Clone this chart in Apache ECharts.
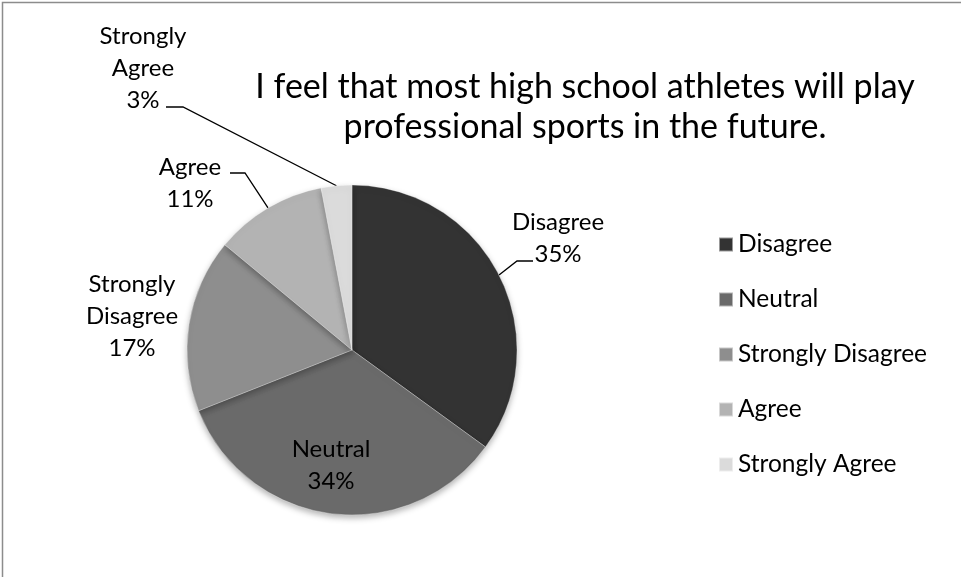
<!DOCTYPE html>
<html>
<head>
<meta charset="utf-8">
<script src="https://cdn.jsdelivr.net/npm/echarts@6/dist/echarts.min.js"></script>
<style>
  html, body { margin: 0; padding: 0; background: #fff; }
  #chartContainer { width: 961px; height: 577px; }
</style>
</head>
<body>
<div id="chartContainer"></div>
<script>
// 数据
var categories = ["Disagree", "Neutral", "Strongly Disagree", "Agree", "Strongly Agree"];
var labelNames = ["Disagree", "Neutral", "Strongly\nDisagree", "Agree", "Strongly\nAgree"];
var values = [35, 34, 17, 11, 3];
var sliceColors = ["#333333", "#6a6a6a", "#8e8e8e", "#b3b3b3", "#dbdbdb"];
var chartTitle = "I feel that most high school athletes will play\nprofessional sports in the future.";

var fontName = "Lato, 'Open Sans', sans-serif";

// label block centres and leader bends (Excel style placement)
var labelPos = [
    { x: 558, y: 238, line: [[517, 261], [533, 261]] },
    { x: 331, y: 465, line: null },
    { x: 132, y: 316, line: null },
    { x: 190, y: 183, line: [[245, 173], [230, 173]] },
    { x: 143, y: 68,  line: [[183, 107], [166, 107]] }
];

var dom = document.getElementById("chartContainer");
var myChart = echarts.init(dom, null, { renderer: "canvas" });

var pieData = [];
for (var i = 0; i < categories.length; i++) {
    pieData.push({
        name: categories[i],
        value: values[i],
        itemStyle: { color: sliceColors[i] },
        label: { position: i === 1 ? "inside" : "outside" },
        labelLine: { show: labelPos[i].line !== null }
    });
}

var option = {
    animation: false,
    color: sliceColors,
    graphic: [
        {
            type: "rect",
            shape: { x: 2.5, y: 2.5, width: 1000, height: 1000 },
            style: { fill: null, stroke: "#8c8c8c", lineWidth: 1.5 },
            z: -1
        },
        {
            type: "text",
            x: 585,
            y: 67,
            style: {
                text: chartTitle,
                fill: "#000",
                font: "34px " + fontName,
                textAlign: "center",
                lineHeight: 40
            }
        }
    ],
    legend: {
        orient: "vertical",
        left: 718,
        top: 232,
        icon: "rect",
        itemWidth: 14,
        itemHeight: 14,
        itemGap: 30,
        padding: 0,
        data: categories,
        textStyle: {
            fontFamily: fontName,
            fontSize: 24.5,
            color: "#000"
        }
    },
    series: [{
        type: "pie",
        center: [352, 350],
        radius: 165,
        startAngle: 90,
        clockwise: true,
        avoidLabelOverlap: false,
        data: pieData,
        itemStyle: {
            borderColor: "rgba(255,255,255,0.5)",
            borderWidth: 0.6,
            shadowBlur: 6,
            shadowOffsetY: 3,
            shadowColor: "rgba(0,0,0,0.3)"
        },
        label: {
            show: true,
            formatter: function (p) {
                return labelNames[p.dataIndex] + "\n" + p.percent + "%";
            },
            fontFamily: fontName,
            fontSize: 24,
            lineHeight: 32,
            color: "#000",
            align: "center"
        },
        labelLine: {
            lineStyle: { color: "#000", width: 1.3 }
        },
        labelLayout: function (params) {
            var pos = labelPos[params.dataIndex];
            var res = {
                x: pos.x,
                y: pos.y,
                align: "center",
                verticalAlign: "middle"
            };
            if (pos.line && params.labelLinePoints) {
                res.labelLinePoints = [params.labelLinePoints[0]].concat(pos.line);
            }
            return res;
        },
        emphasis: { disabled: true }
    }]
};

myChart.setOption(option, true);
window.onresize = myChart.resize;
</script>
</body>
</html>
